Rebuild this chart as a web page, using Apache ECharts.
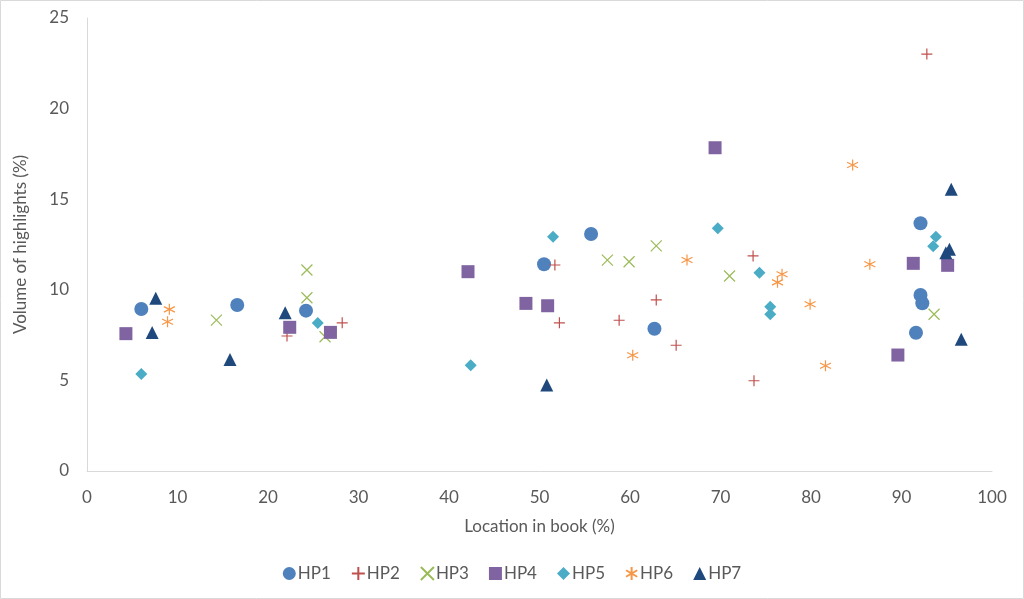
<!DOCTYPE html>
<html><head><meta charset="utf-8">
<script src="https://cdn.jsdelivr.net/npm/echarts@6/dist/echarts.min.js"></script>
<style>html,body{margin:0;padding:0;background:#fff}#c{width:1024px;height:599px}</style>
</head><body><div id="c"></div>
<script>
const seriesNames = ['HP1','HP2','HP3','HP4','HP5','HP6','HP7'];
const hp1 = [[6.0,8.94],[16.6,9.16],[24.2,8.85],[50.5,11.41],[55.7,13.08],[62.7,7.85],[92.1,13.67],[92.1,9.71],[92.3,9.26],[91.6,7.63]];
const hp2 = [[22.1,7.45],[28.2,8.18],[51.7,11.37],[52.2,8.18],[58.8,8.32],[62.9,9.44],[65.1,6.94],[73.6,11.87],[73.7,4.98],[92.8,23.01]];
const hp3 = [[14.3,8.33],[24.3,11.09],[24.3,9.56],[26.3,7.41],[57.5,11.64],[59.9,11.55],[62.9,12.42],[71.0,10.76],[93.6,8.65]];
const hp4 = [[4.3,7.58],[22.4,7.93],[26.9,7.65],[42.1,11.0],[48.5,9.25],[50.9,9.12],[69.4,17.84],[91.3,11.46],[95.1,11.35],[89.6,6.40]];
const hp5 = [[6.0,5.35],[25.5,8.17],[42.4,5.83],[51.5,12.93],[69.7,13.39],[74.3,10.94],[75.5,9.07],[75.5,8.65],[93.8,12.93],[93.5,12.40]];
const hp6 = [[9.1,8.92],[8.9,8.24],[60.3,6.39],[66.3,11.64],[76.8,10.86],[76.3,10.41],[79.9,9.20],[81.6,5.81],[84.6,16.89],[86.5,11.41]];
const hp7 = [[7.6,9.53],[7.2,7.65],[15.8,6.16],[21.9,8.74],[50.8,4.75],[95.5,15.55],[95.3,12.24],[94.9,12.05],[96.6,7.27]];
const xTicks = [0,10,20,30,40,50,60,70,80,90,100];
const yTicks = [0,5,10,15,20,25];

const dataAll = [hp1,hp2,hp3,hp4,hp5,hp6,hp7];
const colors = ['#4f81bd','#c0504d','#9bbb59','#8064a2','#4bacc6','#f79646','#1f497d'];
const PLUS = 'path://M5,0 L5,10 M0,5 L10,5';
const CROSS = 'path://M0,0 L10,10 M10,0 L0,10';
const STAR = 'path://M5,0 L5,10 M0.7,2.5 L9.3,7.5 M9.3,2.5 L0.7,7.5';
const symbols = ['circle', PLUS, CROSS, 'rect', 'diamond', STAR, 'triangle'];
const sizes = [14, 11, 11, 13, 12, 11, 13];
const stroked = [false, true, true, false, false, true, false];

const series = seriesNames.map((n,i)=>({
  name:n, type:'scatter', data:dataAll[i], symbol:symbols[i], symbolSize:sizes[i],
  itemStyle: stroked[i] ? {color:'rgba(0,0,0,0)', borderColor:colors[i], borderWidth:1.2, opacity:1}
                        : {color:colors[i], opacity:1},
  emphasis:{disabled:true}
}));

const chart = echarts.init(document.getElementById('c'), null, {renderer:'canvas'});
const font = 'Lato, "Open Sans", sans-serif';
chart.setOption({
  animation:false,
  textStyle:{fontFamily:font},
  grid:{left:87, right:32, top:18, bottom:128, containLabel:false},
  xAxis:{type:'value', min:xTicks[0], max:xTicks[xTicks.length-1], interval:10,
    name:'Location in book (%)', nameLocation:'middle', nameGap:47,
    nameTextStyle:{color:'#595959', fontSize:17, fontFamily:font},
    axisLine:{show:true, lineStyle:{color:'#d9d9d9', width:1}}, axisTick:{show:false},
    splitLine:{show:false},
    axisLabel:{color:'#595959', fontSize:17, margin:18, fontFamily:font}},
  yAxis:{type:'value', min:yTicks[0], max:yTicks[yTicks.length-1], interval:5,
    name:'Volume of highlights (%)', nameLocation:'middle', nameGap:58,
    nameTextStyle:{color:'#595959', fontSize:17, fontFamily:font},
    axisLine:{show:true, lineStyle:{color:'#d9d9d9', width:1}}, axisTick:{show:false},
    splitLine:{show:false},
    axisLabel:{color:'#595959', fontSize:17, margin:18, fontFamily:font}},
  legend:{data:seriesNames, bottom:12, left:'center', itemGap:20, itemWidth:13, itemHeight:13,
    textStyle:{color:'#595959', fontSize:17, fontFamily:font, padding:[0,0,0,-3]}},
  graphic:[{type:'rect', shape:{x:0.5,y:0.5,width:1023,height:598}, style:{fill:'none', stroke:'#d9d9d9', lineWidth:1}, silent:true}],
  series:series
});
</script></body></html>
